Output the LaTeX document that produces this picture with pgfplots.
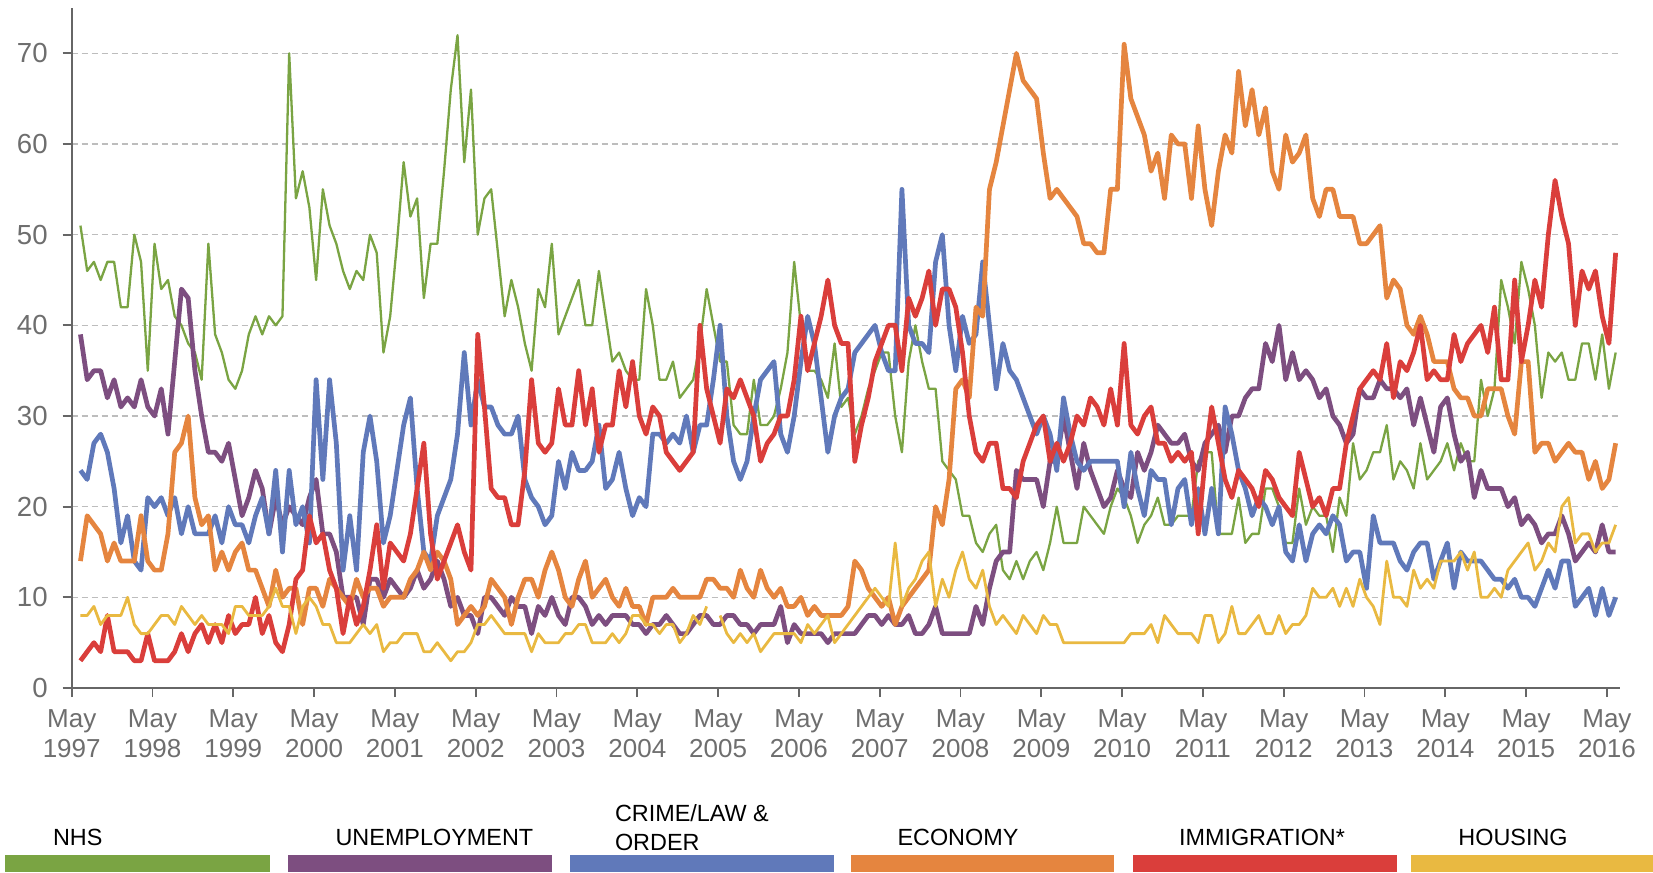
\documentclass[border=0pt]{standalone}
\usepackage{fontspec}
\setmainfont{Liberation Sans}
\usepackage{pgfplots}
\usepackage{pgfplotstable}
\pgfplotsset{compat=1.18}
\definecolor{cNHS}{HTML}{7AA443}
\definecolor{cUNE}{HTML}{7D4E80}
\definecolor{cCRI}{HTML}{6079BA}
\definecolor{cECO}{HTML}{E5853F}
\definecolor{cIMM}{HTML}{DA3E3B}
\definecolor{cHOU}{HTML}{E9B941}
\definecolor{tickgray}{HTML}{6E6E6E}
\definecolor{axisgray}{HTML}{666666}
\definecolor{gridgray}{HTML}{BDBDBD}

\pgfplotstableread[row sep=\\]{v\\
51\\46\\47\\45\\47\\47\\42\\42\\50\\47\\35\\49\\44\\45\\41\\40\\38\\37\\34\\49\\39\\37\\34\\33\\35\\39\\41\\39\\41\\40\\41\\70\\54\\57\\53\\45\\55\\51\\
49\\46\\44\\46\\45\\50\\48\\37\\41\\49\\58\\52\\54\\43\\49\\49\\57\\66\\72\\58\\66\\50\\54\\55\\48\\41\\45\\42\\38\\35\\44\\42\\49\\39\\41\\43\\45\\40\\40\\
46\\41\\36\\37\\35\\34\\34\\44\\40\\34\\34\\36\\32\\33\\34\\38\\44\\40\\36\\36\\29\\28\\28\\34\\29\\29\\30\\33\\37\\47\\40\\35\\35\\34\\32\\38\\31\\32\\
28\\30\\33\\35\\37\\37\\30\\26\\36\\40\\36\\33\\33\\25\\24\\23\\19\\19\\16\\15\\17\\18\\13\\12\\14\\12\\14\\15\\13\\16\\20\\16\\16\\16\\20\\19\\18\\17\\20\\
22\\21\\19\\16\\18\\19\\21\\18\\18\\19\\19\\19\\25\\26\\26\\17\\17\\17\\21\\16\\17\\17\\22\\22\\20\\16\\16\\22\\18\\20\\19\\19\\15\\21\\19\\27\\23\\24\\
26\\26\\29\\23\\25\\24\\22\\27\\23\\24\\25\\27\\24\\27\\25\\25\\34\\30\\33\\45\\42\\38\\47\\44\\40\\32\\37\\36\\37\\34\\34\\38\\38\\34\\39\\33\\37\\
}\nhsdata

\pgfplotstableread[row sep=\\]{v\\
39\\34\\35\\35\\32\\34\\31\\32\\31\\34\\31\\30\\33\\28\\36\\44\\43\\35\\30\\26\\26\\25\\27\\23\\19\\21\\24\\22\\17\\21\\18\\20\\19\\18\\21\\23\\17\\17\\
15\\10\\10\\10\\7\\12\\12\\10\\12\\11\\10\\11\\13\\11\\12\\14\\12\\9\\10\\8\\8\\6\\10\\10\\9\\8\\10\\9\\9\\6\\9\\8\\10\\8\\7\\10\\10\\9\\7\\
8\\7\\8\\8\\8\\7\\7\\6\\7\\7\\8\\7\\6\\6\\7\\8\\8\\7\\7\\8\\8\\7\\7\\6\\7\\7\\7\\9\\5\\7\\6\\6\\6\\6\\5\\6\\6\\6\\
6\\7\\8\\8\\7\\8\\7\\7\\8\\6\\6\\7\\9\\6\\6\\6\\6\\6\\9\\7\\11\\14\\15\\15\\24\\23\\23\\23\\20\\25\\25\\30\\26\\22\\27\\24\\22\\20\\21\\
24\\22\\21\\26\\24\\26\\29\\28\\27\\27\\28\\25\\24\\27\\28\\29\\26\\30\\30\\32\\33\\33\\38\\36\\40\\34\\37\\34\\35\\34\\32\\33\\30\\29\\27\\28\\33\\32\\
32\\34\\33\\33\\32\\33\\29\\32\\29\\26\\31\\32\\28\\25\\26\\21\\24\\22\\22\\22\\20\\21\\18\\19\\18\\16\\17\\17\\19\\17\\14\\15\\16\\15\\18\\15\\15\\
}\unedata

\pgfplotstableread[row sep=\\]{v\\
24\\23\\27\\28\\26\\22\\16\\19\\14\\13\\21\\20\\21\\19\\21\\17\\20\\17\\17\\17\\19\\16\\20\\18\\18\\16\\19\\21\\17\\24\\15\\24\\18\\20\\16\\34\\23\\34\\
27\\13\\19\\13\\26\\30\\25\\16\\19\\24\\29\\32\\22\\15\\14\\19\\21\\23\\28\\37\\29\\34\\31\\31\\29\\28\\28\\30\\23\\21\\20\\18\\19\\25\\22\\26\\24\\24\\25\\
29\\22\\23\\26\\22\\19\\21\\20\\28\\28\\27\\28\\27\\30\\26\\29\\29\\34\\40\\30\\25\\23\\25\\30\\34\\35\\36\\28\\26\\30\\36\\41\\38\\32\\26\\30\\32\\33\\
37\\38\\39\\40\\37\\35\\35\\55\\40\\38\\38\\37\\47\\50\\40\\35\\41\\38\\39\\47\\40\\33\\38\\35\\34\\32\\30\\28\\30\\28\\24\\32\\28\\25\\24\\25\\25\\25\\25\\
25\\20\\26\\22\\19\\24\\23\\23\\18\\22\\23\\18\\22\\17\\22\\17\\31\\28\\24\\22\\19\\21\\20\\18\\20\\15\\14\\18\\14\\17\\18\\17\\19\\18\\14\\15\\15\\11\\
19\\16\\16\\16\\14\\13\\15\\16\\16\\12\\14\\16\\11\\15\\14\\14\\14\\13\\12\\12\\11\\12\\10\\10\\9\\11\\13\\11\\14\\14\\9\\10\\11\\8\\11\\8\\10\\
}\cridata

\pgfplotstableread[row sep=\\]{v\\
14\\19\\18\\17\\14\\16\\14\\14\\14\\19\\14\\13\\13\\17\\26\\27\\30\\21\\18\\19\\13\\15\\13\\15\\16\\13\\13\\11\\9\\13\\10\\11\\11\\7\\11\\11\\9\\12\\
11\\10\\9\\12\\10\\11\\11\\9\\10\\10\\10\\12\\13\\15\\13\\15\\14\\12\\7\\8\\9\\8\\9\\12\\11\\10\\7\\10\\12\\12\\10\\13\\15\\13\\10\\9\\12\\14\\10\\
11\\12\\10\\9\\11\\9\\9\\7\\10\\10\\10\\11\\10\\10\\10\\10\\12\\12\\11\\11\\10\\13\\11\\10\\13\\11\\10\\11\\9\\9\\10\\8\\9\\8\\8\\8\\8\\9\\
14\\13\\11\\10\\9\\10\\7\\9\\10\\11\\12\\13\\20\\18\\23\\33\\34\\32\\42\\41\\55\\58\\62\\66\\70\\67\\66\\65\\59\\54\\55\\54\\53\\52\\49\\49\\48\\48\\55\\
55\\71\\65\\63\\61\\57\\59\\54\\61\\60\\60\\54\\62\\55\\51\\57\\61\\59\\68\\62\\66\\61\\64\\57\\55\\61\\58\\59\\61\\54\\52\\55\\55\\52\\52\\52\\49\\49\\
50\\51\\43\\45\\44\\40\\39\\41\\39\\36\\36\\36\\33\\32\\32\\30\\30\\33\\33\\33\\30\\28\\36\\36\\26\\27\\27\\25\\26\\27\\26\\26\\23\\25\\22\\23\\27\\
}\ecodata

\pgfplotstableread[row sep=\\]{v\\
3\\4\\5\\4\\8\\4\\4\\4\\3\\3\\6\\3\\3\\3\\4\\6\\4\\6\\7\\5\\7\\5\\8\\6\\7\\7\\10\\6\\8\\5\\4\\7\\12\\13\\19\\16\\17\\13\\
11\\6\\10\\7\\9\\13\\18\\11\\16\\15\\14\\17\\22\\27\\17\\12\\14\\16\\18\\15\\13\\39\\31\\22\\21\\21\\18\\18\\24\\34\\27\\26\\27\\33\\29\\29\\35\\29\\33\\
26\\29\\29\\35\\31\\36\\30\\28\\31\\30\\26\\25\\24\\25\\26\\40\\33\\30\\27\\33\\32\\34\\32\\30\\25\\27\\28\\30\\30\\34\\41\\35\\38\\41\\45\\40\\38\\38\\
25\\29\\32\\36\\38\\40\\40\\35\\43\\41\\43\\46\\40\\44\\44\\42\\37\\30\\26\\25\\27\\27\\22\\22\\21\\25\\27\\29\\30\\25\\27\\25\\27\\30\\29\\32\\31\\29\\33\\
29\\38\\29\\28\\30\\31\\27\\27\\25\\26\\25\\26\\17\\25\\31\\27\\23\\21\\24\\23\\22\\20\\24\\23\\21\\20\\19\\26\\23\\20\\21\\19\\22\\22\\27\\30\\33\\34\\
35\\34\\38\\32\\36\\35\\37\\40\\34\\35\\34\\34\\39\\36\\38\\39\\40\\37\\42\\34\\34\\45\\36\\40\\45\\42\\50\\56\\52\\49\\40\\46\\44\\46\\41\\38\\48\\
}\immdata

\pgfplotstableread[row sep=\\]{v\\
8\\8\\9\\7\\8\\8\\8\\10\\7\\6\\6\\7\\8\\8\\7\\9\\8\\7\\8\\7\\7\\7\\6\\9\\9\\8\\8\\8\\9\\11\\9\\9\\6\\9\\10\\9\\7\\7\\
5\\5\\5\\6\\7\\6\\7\\4\\5\\5\\6\\6\\6\\4\\4\\5\\4\\3\\4\\4\\5\\7\\7\\8\\7\\6\\6\\6\\6\\4\\6\\5\\5\\5\\6\\6\\7\\7\\5\\
5\\5\\6\\5\\6\\8\\8\\7\\7\\6\\7\\7\\5\\6\\8\\7\\9\\nan\\8\\6\\5\\6\\5\\6\\4\\5\\6\\6\\6\\6\\5\\7\\6\\7\\8\\5\\6\\7\\
8\\9\\10\\11\\10\\9\\16\\9\\11\\12\\14\\15\\9\\12\\10\\13\\15\\12\\11\\13\\9\\7\\8\\7\\6\\8\\7\\6\\8\\7\\7\\5\\5\\5\\5\\5\\5\\5\\5\\
5\\5\\6\\6\\6\\7\\5\\8\\7\\6\\6\\6\\5\\8\\8\\5\\6\\9\\6\\6\\7\\8\\6\\6\\8\\6\\7\\7\\8\\11\\10\\10\\11\\9\\11\\9\\12\\10\\
9\\7\\14\\10\\10\\9\\13\\11\\12\\11\\14\\14\\14\\15\\13\\15\\10\\10\\11\\10\\13\\14\\15\\16\\13\\14\\16\\15\\20\\21\\16\\17\\17\\15\\16\\16\\18\\
}\houdata

\begin{document}
\begin{tikzpicture}
\useasboundingbox (-35.85pt,-92pt) rectangle (790.65pt,344pt);
\begin{axis}[
  at={(0pt,0pt)}, anchor=south west,
  scale only axis, width=774pt, height=340pt,
  xmin=-0.3, xmax=229.6, ymin=0, ymax=75,
  axis x line=bottom, axis y line=left,
  axis line style={-, draw=axisgray, line width=0.9pt},
  tick align=outside, major tick length=4.5pt,
  tick style={draw=axisgray, line width=0.9pt},
  ytick={0,10,...,70},
  xtick={-0.3,11.7,23.7,35.7,47.7,59.7,71.7,83.7,95.7,107.7,119.7,131.7,143.7,155.7,167.7,179.7,191.7,203.7,215.7,227.7},
  xticklabels={{May\\1997},{May\\1998},{May\\1999},{May\\2000},{May\\2001},{May\\2002},{May\\2003},{May\\2004},{May\\2005},{May\\2006},{May\\2007},{May\\2008},{May\\2009},{May\\2010},{May\\2011},{May\\2012},{May\\2013},{May\\2014},{May\\2015},{May\\2016}},
  xticklabel style={font=\fontsize{13}{15}\selectfont, text=tickgray, align=center, yshift=-3pt},
  yticklabel style={font=\fontsize{13.8}{16}\selectfont, text=tickgray, xshift=-4pt},
  /pgf/number format/assume math mode=true,
  ymajorgrids,
  major grid style={draw=gridgray, line width=0.65pt, dash pattern=on 3.3pt off 1.7pt},
  unbounded coords=jump,
  every axis plot/.append style={line join=round, mark=none},
]
\addplot[cNHS, line width=1.15pt] table[x expr=\coordindex+1, y=v] {\nhsdata};
\addplot[cUNE, line width=2.35pt] table[x expr=\coordindex+1, y=v] {\unedata};
\addplot[cCRI, line width=2.35pt] table[x expr=\coordindex+1, y=v] {\cridata};
\addplot[cECO, line width=2.35pt] table[x expr=\coordindex+1, y=v] {\ecodata};
\addplot[cIMM, line width=2.35pt] table[x expr=\coordindex+1, y=v] {\immdata};
\addplot[cHOU, line width=1.4pt] table[x expr=\coordindex+1, y=v] {\houdata};
\end{axis}
% legend
\fill[cNHS] (-33.35pt,-92pt) rectangle (99.15pt,-83.5pt);
\fill[cUNE] (108.15pt,-92pt) rectangle (240.35pt,-83.5pt);
\fill[cCRI] (249.3pt,-92pt) rectangle (381.1pt,-83.5pt);
\fill[cECO] (389.5pt,-92pt) rectangle (521.3pt,-83.5pt);
\fill[cIMM] (530.8pt,-92pt) rectangle (662.55pt,-83.5pt);
\fill[cHOU] (669.4pt,-92pt) rectangle (790.65pt,-83.5pt);
\begin{scope}[every node/.style={anchor=base west, inner sep=0pt, font=\fontsize{11.7}{14}\selectfont, text=black}]
\node at (-9.5pt,-78.7pt) {NHS};
\node at (131.75pt,-78.7pt) {UNEMPLOYMENT};
\node at (271.45pt,-66.7pt) {CRIME/LAW \&};
\node at (271.45pt,-81.2pt) {ORDER};
\node at (412.7pt,-78.7pt) {ECONOMY};
\node at (553.45pt,-78.7pt) {IMMIGRATION*};
\node at (693.15pt,-78.7pt) {HOUSING};
\end{scope}
\end{tikzpicture}
\end{document}
